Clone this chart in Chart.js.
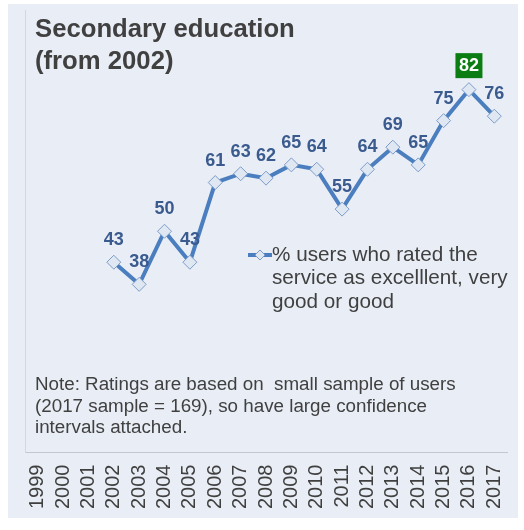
<!DOCTYPE html>
<html lang="en">
<head>
    <meta charset="UTF-8">
    <title>Secondary education (from 2002)</title>
    <script src="https://cdn.jsdelivr.net/npm/chart.js"></script>
    <style>
        body {
            margin: 0;
            background: #ffffff;
        }
        canvas {
            display: block;
        }
    </style>
</head>
<body>

<canvas id="chart" width="524" height="530"></canvas>

<script>
    // data
    const years = ["1999", "2000", "2001", "2002", "2003", "2004", "2005", "2006", "2007", "2008",
                   "2009", "2010", "2011", "2012", "2013", "2014", "2015", "2016", "2017"];
    const rated = [null, null, null, 43, 38, 50, 43, 61, 63, 62, 65, 64, 55, 64, 69, 65, 75, 82, 76];
    const seriesName = ["% users who rated the", "service as excelllent, very", "good or good"];
    const titleLines = ["Secondary education", "(from 2002)"];
    const noteLines = [
        "Note: Ratings are based on  small sample of users",
        "(2017 sample = 169), so have large confidence",
        "intervals attached."
    ];

    const FONT = "'Liberation Sans', Arial, sans-serif";
    const TEXT = "#404040";
    const LINE = "#4a7ebf";
    const LABEL = "#3b5b8f";

    function diamond(ctx, x, y, r) {
        ctx.beginPath();
        ctx.moveTo(x, y - r);
        ctx.lineTo(x + r, y);
        ctx.lineTo(x, y + r);
        ctx.lineTo(x - r, y);
        ctx.closePath();
        ctx.fillStyle = "#dfe7f3";
        ctx.fill();
        ctx.strokeStyle = "#7d9cc8";
        ctx.lineWidth = 1;
        ctx.stroke();
    }

    const panel = {
        id: "panel",
        beforeDraw(chart) {
            const ctx = chart.ctx;
            ctx.save();
            ctx.fillStyle = "#e9eef6";
            ctx.fillRect(8, 4, 510, 514);
            ctx.restore();
        }
    };

    const extras = {
        id: "extras",
        afterDatasetsDraw(chart) {
            const ctx = chart.ctx;
            ctx.save();
            ctx.textBaseline = "middle";

            // title
            ctx.fillStyle = TEXT;
            ctx.font = "bold 25.7px " + FONT;
            ctx.textAlign = "left";
            titleLines.forEach((t, i) => ctx.fillText(t, 35, 30 + i * 32));

            // note
            ctx.font = "18.8px " + FONT;
            noteLines.forEach((t, i) => ctx.fillText(t, 35, 385 + i * 21.5));

            // legend
            ctx.strokeStyle = LINE;
            ctx.lineWidth = 4;
            ctx.beginPath();
            ctx.moveTo(248, 255);
            ctx.lineTo(272, 255);
            ctx.stroke();
            diamond(ctx, 260, 255, 5);
            ctx.fillStyle = TEXT;
            ctx.font = "20.7px " + FONT;
            seriesName.forEach((t, i) => ctx.fillText(t, 272, 255 + i * 23.5));

            // value labels
            const meta = chart.getDatasetMeta(0);
            const max = Math.max(...rated.filter(v => v !== null));
            ctx.textAlign = "center";
            ctx.font = "bold 18px " + FONT;
            meta.data.forEach((pt, i) => {
                const v = rated[i];
                if (v === null) return;
                const y = pt.y - 22;
                if (v === max) {
                    ctx.fillStyle = "#0b7d12";
                    ctx.fillRect(pt.x - 13.5, y - 14.5, 27, 25);
                    ctx.fillStyle = "#ffffff";
                    ctx.fillText(v, pt.x, y - 2);
                } else {
                    ctx.fillStyle = LABEL;
                    ctx.fillText(v, pt.x, y);
                }
            });
            ctx.restore();
        }
    };

    new Chart(document.getElementById("chart"), {
        type: "line",
        data: {
            labels: years,
            datasets: [{
                label: seriesName.join(" "),
                data: rated,
                borderColor: LINE,
                borderWidth: 4,
                pointStyle: "rectRot",
                pointRadius: 7,
                pointBackgroundColor: "#dfe7f3",
                pointBorderColor: "#7d9cc8",
                pointBorderWidth: 1,
                tension: 0
            }]
        },
        options: {
            responsive: false,
            animation: false,
            events: [],
            layout: { padding: { left: 25, top: 10, right: 17, bottom: 9 } },
            plugins: {
                legend: { display: false },
                tooltip: { enabled: false }
            },
            scales: {
                x: {
                    offset: true,
                    grid: { display: false, drawTicks: false },
                    border: { color: "#c3c8cf", width: 1 },
                    ticks: {
                        color: TEXT,
                        font: { family: FONT, size: 20 },
                        minRotation: 90,
                        maxRotation: 90,
                        autoSkip: false,
                        padding: 12
                    },
                    // rotated labels sit inside the plot width, no extra side padding
                    afterFit(scale) {
                        scale.paddingLeft = 0;
                        scale.paddingRight = 0;
                    }
                },
                y: {
                    min: 0,
                    max: 100,
                    grid: { display: false, drawTicks: false },
                    border: { color: "#d3d8df", width: 1 },
                    ticks: { display: false }
                }
            }
        },
        plugins: [panel, extras]
    });
</script>

</body>
</html>
